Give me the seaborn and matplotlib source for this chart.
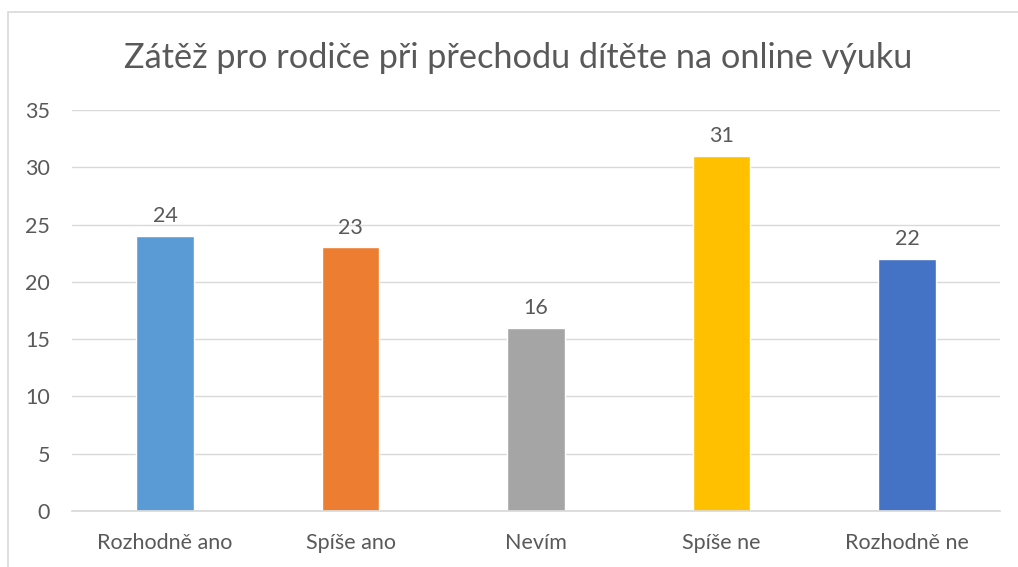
import matplotlib
matplotlib.use("Agg")
import matplotlib.pyplot as plt
import matplotlib.patches as patches
import seaborn as sns
import pandas as pd

categories = ["Rozhodně ano", "Spíše ano", "Nevím", "Spíše ne", "Rozhodně ne"]
values = [24, 23, 16, 31, 22]
colors = ["#5B9BD5", "#ED7D31", "#A5A5A5", "#FFC000", "#4472C4"]
yticks = [0, 5, 10, 15, 20, 25, 30, 35]
title = "Zátěž pro rodiče při přechodu dítěte na online výuku"

sns.set_theme(style="white")
plt.rcParams["font.family"] = ["Lato", "DejaVu Sans"]
text_color = "#595959"

df = pd.DataFrame({"kategorie": categories, "pocet": values})

fig = plt.figure(figsize=(10.18, 5.67), dpi=100)
ax = fig.add_axes([72.25 / 1018, 1 - 511 / 567, 927.5 / 1018, 401 / 567])

sns.barplot(data=df, x="kategorie", y="pocet", hue="kategorie", palette=colors,
            width=0.31, legend=False, ax=ax, saturation=1)

ax.set_ylim(0, 35)
ax.set_xlim(-0.5, len(categories) - 0.5)
ax.set_yticks(yticks)
ax.yaxis.grid(True, color="#D9D9D9", linewidth=1)
ax.set_axisbelow(True)
for s in ax.spines.values():
    s.set_visible(False)
ax.spines["bottom"].set_visible(True)
ax.spines["bottom"].set_color("#D9D9D9")
ax.tick_params(axis="both", length=0, labelsize=15.5, colors=text_color)
ax.tick_params(axis="y", pad=16)
ax.tick_params(axis="x", pad=16)
ax.set_xlabel("")
ax.set_ylabel("")

for i, v in enumerate(values):
    ax.annotate(str(v), (i, v), xytext=(0, 7), textcoords="offset points",
                ha="center", va="bottom", fontsize=15.5, color=text_color)

fig.text(518 / 1018, 1 - 58 / 567, title, ha="center", va="center",
         fontsize=24.7, color=text_color)

# chart frame
fig.patches.append(patches.Rectangle((8 / 1018, -0.1), 1.2, 1 - 12 / 567 + 0.1,
                                     transform=fig.transFigure, fill=False,
                                     edgecolor="#D9D9D9", linewidth=1.2))

fig.savefig("out.png", dpi=100)
